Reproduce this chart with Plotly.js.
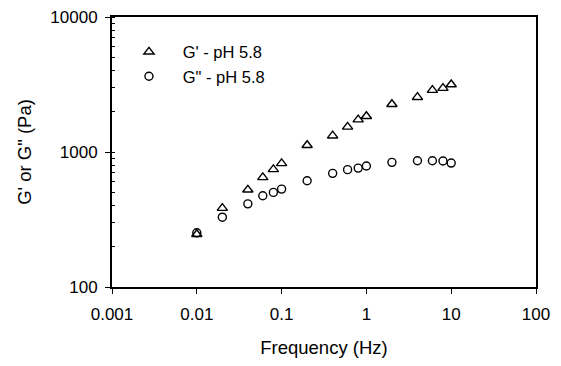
<!DOCTYPE html>
<html>
<head>
<meta charset="utf-8">
<script src="https://cdn.plot.ly/plotly-3.0.1.min.js"></script>
<style>html,body{margin:0;padding:0;background:#fff;}#chart{width:561px;height:366px;}</style>
</head>
<body>
<div id="chart"></div>
<script>
const frequency = [0.01, 0.02, 0.04, 0.06, 0.08, 0.1, 0.2, 0.4, 0.6, 0.8, 1, 2, 4, 6, 8, 10];
const gPrime = [246, 384, 525, 649, 744, 824, 1122, 1321, 1534, 1738, 1841, 2259, 2547, 2871, 2971, 3162];
const gDoublePrime = [252, 329, 413, 474, 502, 531, 612, 695, 740, 760, 787, 838, 861, 861, 858, 828];
const seriesNames = ["G' - pH 5.8", "G\" - pH 5.8"];
const xTickVals = [0.001, 0.01, 0.1, 1, 10, 100];
const xTickText = ["0.001", "0.01", "0.1", "1", "10", "100"];
const yTickVals = [100, 1000, 10000];
const yTickText = ["100", "1000", "10000"];

const font = "Liberation Sans, Arial, sans-serif";
const gap = "\u00a0\u00a0\u00a0";

const traces = [
  {
    x: frequency, y: gPrime, name: gap + seriesNames[0], type: "scatter", mode: "markers",
    marker: {symbol: "triangle-up-open", size: 9, color: "#000", line: {width: 1.4, color: "#000"}}
  },
  {
    x: frequency, y: gDoublePrime, name: gap + seriesNames[1], type: "scatter", mode: "markers",
    marker: {symbol: "circle-open", size: 8, color: "#000", line: {width: 1.4, color: "#000"}}
  }
];

const layout = {
  width: 561, height: 366,
  margin: {l: 112, r: 25, t: 17, b: 79},
  paper_bgcolor: "#fff", plot_bgcolor: "#fff",
  font: {family: font, size: 17, color: "#000"},
  showlegend: true,
  legend: {x: 0.04, y: 0.935, xanchor: "left", yanchor: "top", bgcolor: "rgba(0,0,0,0)",
           font: {family: font, size: 16.5, color: "#000"}, tracegroupgap: 0, itemsizing: "trace"},
  xaxis: {
    type: "log", range: [-3, 2], tickvals: xTickVals, ticktext: xTickText,
    showgrid: false, zeroline: false, showline: true, linewidth: 2, linecolor: "#000", mirror: true,
    ticks: "outside", ticklen: 5, tickwidth: 1, tickcolor: "#000", ticklabelstandoff: 6,
    tickfont: {family: font, size: 17, color: "#000"},
    title: {text: "Frequency (Hz)", font: {family: font, size: 18.5, color: "#000"}, standoff: 18}
  },
  yaxis: {
    type: "log", range: [2, 4], tickvals: yTickVals, ticktext: yTickText,
    showgrid: false, zeroline: false, showline: true, linewidth: 2, linecolor: "#000", mirror: true,
    ticks: "outside", ticklen: 5, tickwidth: 1, tickcolor: "#000", ticklabelstandoff: 4,
    tickfont: {family: font, size: 17, color: "#000"},
    minor: {ticks: "inside", ticklen: 3, tickwidth: 1, tickcolor: "#000", dtick: "D1", showgrid: false},
    title: {text: "G' or G\" (Pa)", font: {family: font, size: 18.5, color: "#000"}, standoff: 14}
  }
};

Plotly.newPlot("chart", traces, layout, {displayModeBar: false, staticPlot: true});
</script>
</body>
</html>
